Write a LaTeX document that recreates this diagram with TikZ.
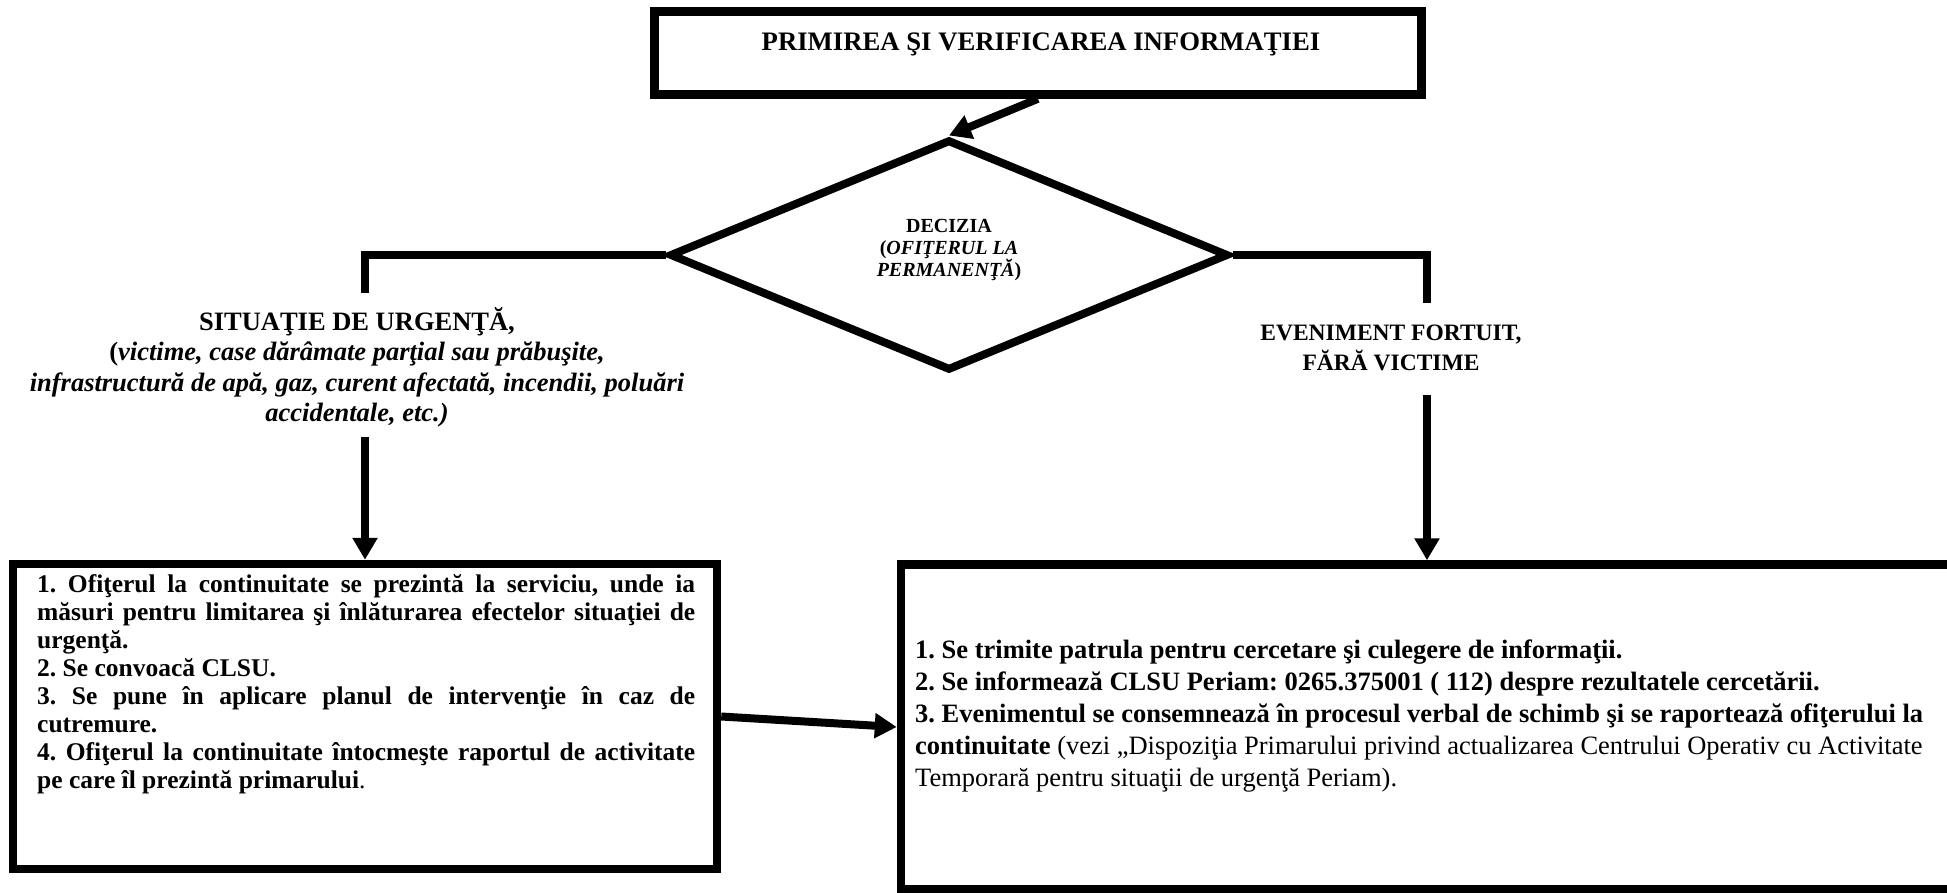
\documentclass[tikz,border=0pt]{standalone}
\usepackage{fontspec}
\setmainfont{Liberation Serif}
\usetikzlibrary{arrows.meta,shapes.geometric}
\newcommand\fsz[2]{\fontsize{#1}{#2}\selectfont}
\frenchspacing
\tikzset{
  ln/.style={line width=8pt},
  arr/.style={line width=8pt,-{Triangle[length=22pt,width=24pt]}},
  boxnode/.style={draw,line width=8.5pt,rectangle,inner sep=0pt},
  txt/.style={inner sep=0pt,anchor=base}
}
\begin{document}
\begin{tikzpicture}[x=1pt,y=-1pt]
\useasboundingbox (0,0) rectangle (1947,892);
\fill[white] (0,0) rectangle (1947,892);
% top box
\node[boxnode,minimum width=767pt,minimum height=83pt] (topbox) at (1038,53) {};
\node[txt] (title) at (1041,50) {\fsz{26.7}{30}\bfseries PRIMIREA ŞI VERIFICAREA INFORMAŢIEI};
% decision
\node[draw,line width=8pt,shape=diamond,minimum width=559pt,minimum height=231pt,inner sep=0pt] (dia) at (949,255) {};
\node[txt] (dtext) at (949,232) {\parbox[t]{300pt}{\centering\fsz{20}{22}\bfseries DECIZIA\\(\textit{OFIŢERUL LA}\\\textit{PERMANENŢĂ})}};
% left label
\node[txt] (urg) at (357,330) {\parbox[t]{700pt}{\centering\fsz{26.5}{30.5}\bfseries SITUAŢIE DE URGENŢĂ,\\(\textit{victime, case dărâmate parţial sau prăbuşite,}\\\textit{infrastructură de apă, gaz, curent afectată, incendii, poluări}\\\textit{accidentale, etc.)}}};
% right label
\node[txt] (ev) at (1391,340) {\parbox[t]{500pt}{\centering\fsz{23.5}{30.5}\bfseries EVENIMENT FORTUIT,\\FĂRĂ VICTIME}};
% bottom boxes
\node[boxnode,minimum width=704pt,minimum height=305pt] (lbox) at (365,716.5) {};
\node[boxnode,minimum width=1099pt,minimum height=325pt] (rbox) at (1450.5,727) {};
\node[inner sep=0pt,anchor=base west] (ltext) at (37,592) {\parbox[t]{658pt}{\fsz{25.5}{28}\bfseries
1. Ofiţerul la continuitate se prezintă la serviciu, unde ia\linebreak
măsuri pentru limitarea şi înlăturarea efectelor situaţiei de\linebreak
urgenţă.\\
2. Se convoacă CLSU.\\
3. Se pune în aplicare planul de intervenţie în caz de\linebreak
cutremure.\\
4. Ofiţerul la continuitate întocmeşte raportul de activitate\linebreak
pe care îl prezintă primarului\mdseries.}};
\node[inner sep=0pt,anchor=base west] (rtext) at (915,658) {\parbox[t]{1100pt}{\raggedright\fsz{26.5}{32}
\textbf{1. Se trimite patrula pentru cercetare şi culegere de informaţii.}\\
\textbf{2. Se informează CLSU Periam: 0265.375001 ( 112) despre rezultatele cercetării.}\\
\textbf{3. Evenimentul se consemnează în procesul verbal de schimb şi se raportează ofiţerului la}\\
\textbf{continuitate} (vezi „Dispoziţia Primarului privind actualizarea Centrului Operativ cu Activitate\\
Temporară pentru situaţii de urgenţă Periam).}};
% connectors
\coordinate (ul) at (365,293);
\coordinate (dl) at (365,437);
\coordinate (ur) at (1427,303);
\coordinate (dr) at (1427,395);
\draw[arr] (topbox.south) -- (dia.north);
\draw[ln] (dia.west) -| (ul);
\draw[arr] (dl) -- (lbox.north);
\draw[ln] (dia.east) -| (ur);
\draw[arr] (dr) -- (dr |- rbox.north);
\draw[arr] (lbox.east) -- (rbox.west);
\end{tikzpicture}
\end{document}
